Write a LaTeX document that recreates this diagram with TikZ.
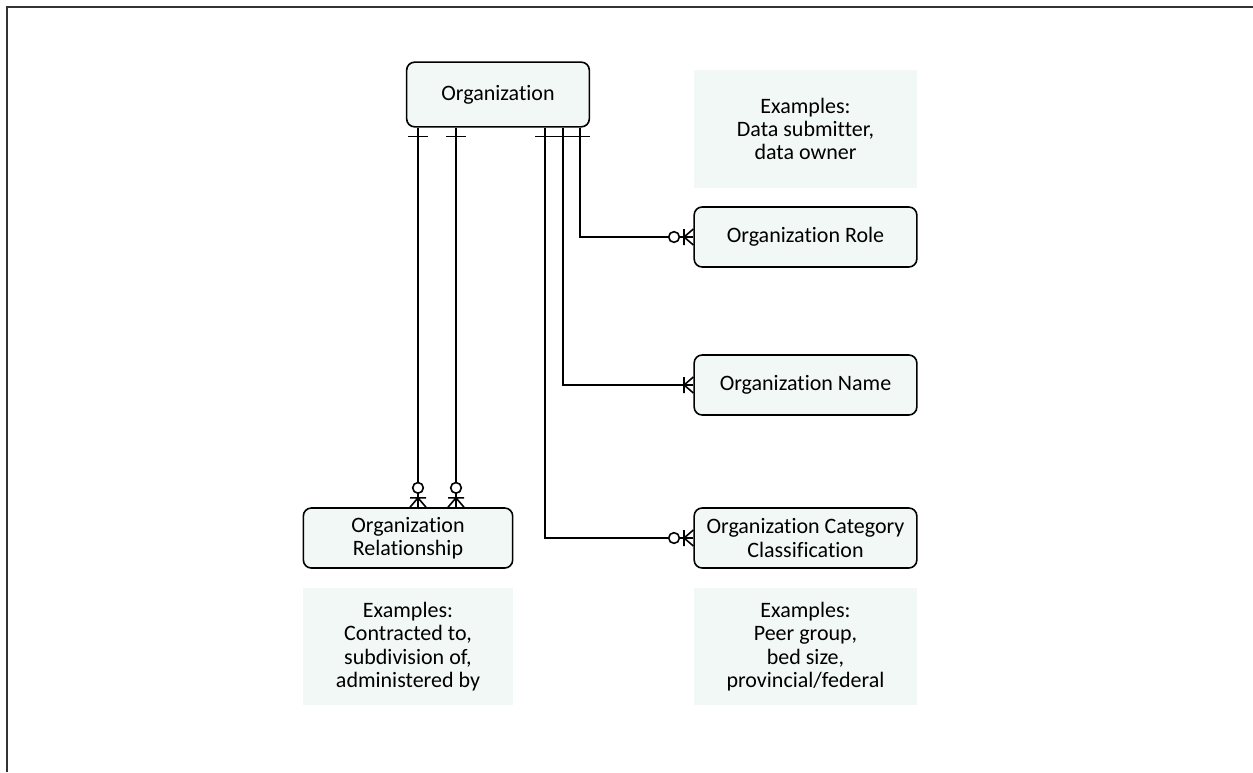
\documentclass[tikz,border=0pt]{standalone}
\usepackage{fontspec}
\setmainfont{Carlito}[Ligatures={NoCommon}]
\usepackage{tikz}
\usetikzlibrary{positioning, decorations.markings}

\definecolor{boxfill}{HTML}{F2F8F6}

\begin{document}
\begin{tikzpicture}[
    x=0.75pt, y=-0.75pt,
    every node/.style={font=\fontsize{16.5}{17.5}\selectfont},
    entity/.style={rectangle, rounded corners=6pt, draw, line width=1.2pt, align=center,
                   fill=boxfill, minimum width=167pt, minimum height=45pt, inner sep=2pt},
    note/.style={rectangle, align=center, fill=boxfill,
                 minimum width=167pt, minimum height=88pt},
    link/.style={line width=1.2pt},
    one/.style={postaction={decorate, decoration={markings,
        mark=at position 0 with {\draw[line width=1.2pt] (6.5pt,-7.5pt) -- (6.5pt,7.5pt);}}}},
    zeromany/.style={postaction={decorate, decoration={markings,
        mark=at position 1 with {
          \draw[line width=1.2pt] (-7pt,0pt) -- (0pt,6pt) (-7pt,0pt) -- (0pt,-6pt)
                                  (-7pt,-6pt) -- (-7pt,6pt);
          \draw[line width=1.2pt, fill=white] (-14.5pt,0pt) circle (4pt);}}}},
    onemany/.style={postaction={decorate, decoration={markings,
        mark=at position 1 with {
          \draw[line width=1.2pt] (-7pt,0pt) -- (0pt,6pt) (-7pt,0pt) -- (0pt,-6pt)
                                  (-7pt,-6pt) -- (-7pt,6pt);}}}}
  ]

  % frame
  \useasboundingbox (0,0) rectangle (1253,772);
  \draw[line width=1.5pt, black!80] (7,772) -- (7,7) -- (1253,7);

  % entities
  \node[entity, minimum width=137pt, minimum height=48.5pt] (org) at (498,94.5) {Organization};
  \node[entity] (role) at (805.5,237) {Organization Role};
  \node[entity] (name) at (805.5,385) {Organization Name};
  \node[entity] (cat) at (805.5,538) {Organization Category\\Classification};
  \node[entity, minimum width=157pt] (rel) at (408,538) {Organization\\Relationship};

  % examples
  \node[note] (exrole) at (805.5,129) {Examples:\\Data submitter,\\data owner};
  \node[note] (excat) at (805.5,646.5) {Examples:\\Peer group,\\bed size,\\provincial/federal};
  \node[note, minimum width=157pt] (exrel) at (408,646.5) {Examples:\\Contracted to,\\subdivision of,\\administered by};

  % relationships
  \draw[link, one, zeromany] (org.south -| 418,0) -- (rel.north -| 418,0);
  \draw[link, one, zeromany] (org.south -| 456,0) -- (rel.north -| 456,0);
  \draw[link, one, zeromany] (org.south -| 545,0) |- (cat.west);
  \draw[link, one, onemany] (org.south -| 563,0) |- (name.west);
  \draw[link, one, zeromany] (org.south -| 580,0) |- (role.west);

\end{tikzpicture}
\end{document}
